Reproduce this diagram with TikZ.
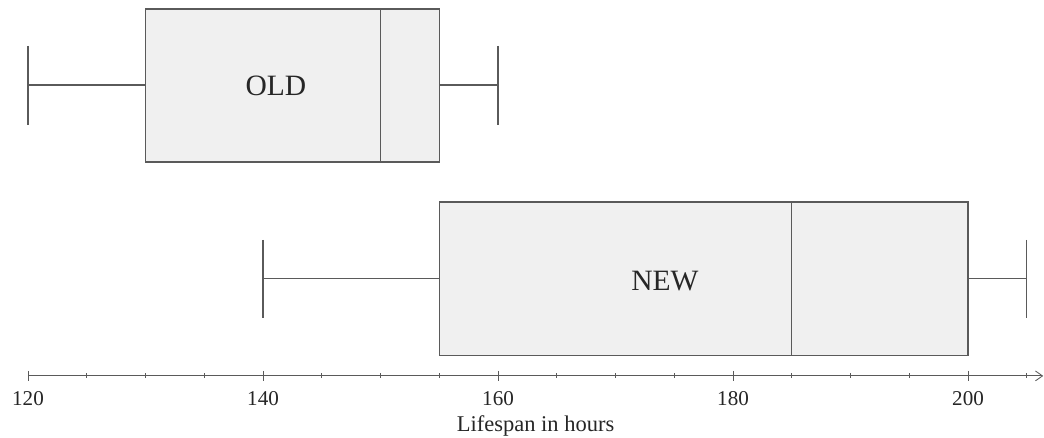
\documentclass[tikz,border=0pt]{standalone}
\usepackage{fontspec}
\setmainfont{Liberation Serif}
\usetikzlibrary{arrows.meta,positioning}
\definecolor{boxfill}{HTML}{F0F0F0}
\definecolor{linegray}{HTML}{5A5A5A}
\tikzset{
  plotbox/.style={draw=linegray, fill=boxfill, line width=0.8pt},
  whisker/.style={draw=linegray, line width=0.8pt},
  axisline/.style={draw=linegray, line width=0.6pt},
  boxlabel/.style={font=\fontsize{21}{21}\selectfont, text=black!85},
  ticklabel/.style={font=\fontsize{15}{15}\selectfont, text=black!85}
}

\begin{document}
\begin{tikzpicture}[x=0.29375cm, y=-0.025cm]
\useasboundingbox (117.617,0) rectangle (206.468,438);

% old bulbs
\draw[whisker] (120,85) -- (130,85);
\draw[whisker] (155,85) -- (160,85);
\draw[whisker] (120,46) -- (120,125);
\draw[whisker] (160,46) -- (160,125);
\draw[plotbox] (130,9) rectangle (155,162);
\draw[whisker] (150,9) -- (150,162);
\node[boxlabel] (old) at (141.1,86) {OLD};

% new bulbs
\draw[whisker] (140,279) -- (155,279);
\draw[whisker] (200,279) -- (205,279);
\draw[whisker] (140,240) -- (140,318);
\draw[whisker] (205,240) -- (205,318);
\draw[plotbox] (155,202) rectangle (200,356);
\draw[whisker] (185,202) -- (185,356);
\node[boxlabel] (new) at (174.2,281) {NEW};

% axis
\coordinate (axstart) at (120,376);
\coordinate (axend) at (206.4,376);
\draw[axisline, -{Straight Barb[length=5pt,width=7pt]}] (axstart) -- (axend);
\foreach \t in {125,130,135,145,150,155,165,170,175,185,190,195,205}
  \draw[axisline] (\t,373.5) -- (\t,378.5);
\foreach \t in {120,140,160,180,200}{
  \draw[axisline] (\t,371) -- (\t,381);
  \node[ticklabel] (lab\t) at (\t,399) {\t};
}
\node[ticklabel, font=\fontsize{16}{16}\selectfont] (title) at (163.2,426) {Lifespan in hours};
\end{tikzpicture}
\end{document}
